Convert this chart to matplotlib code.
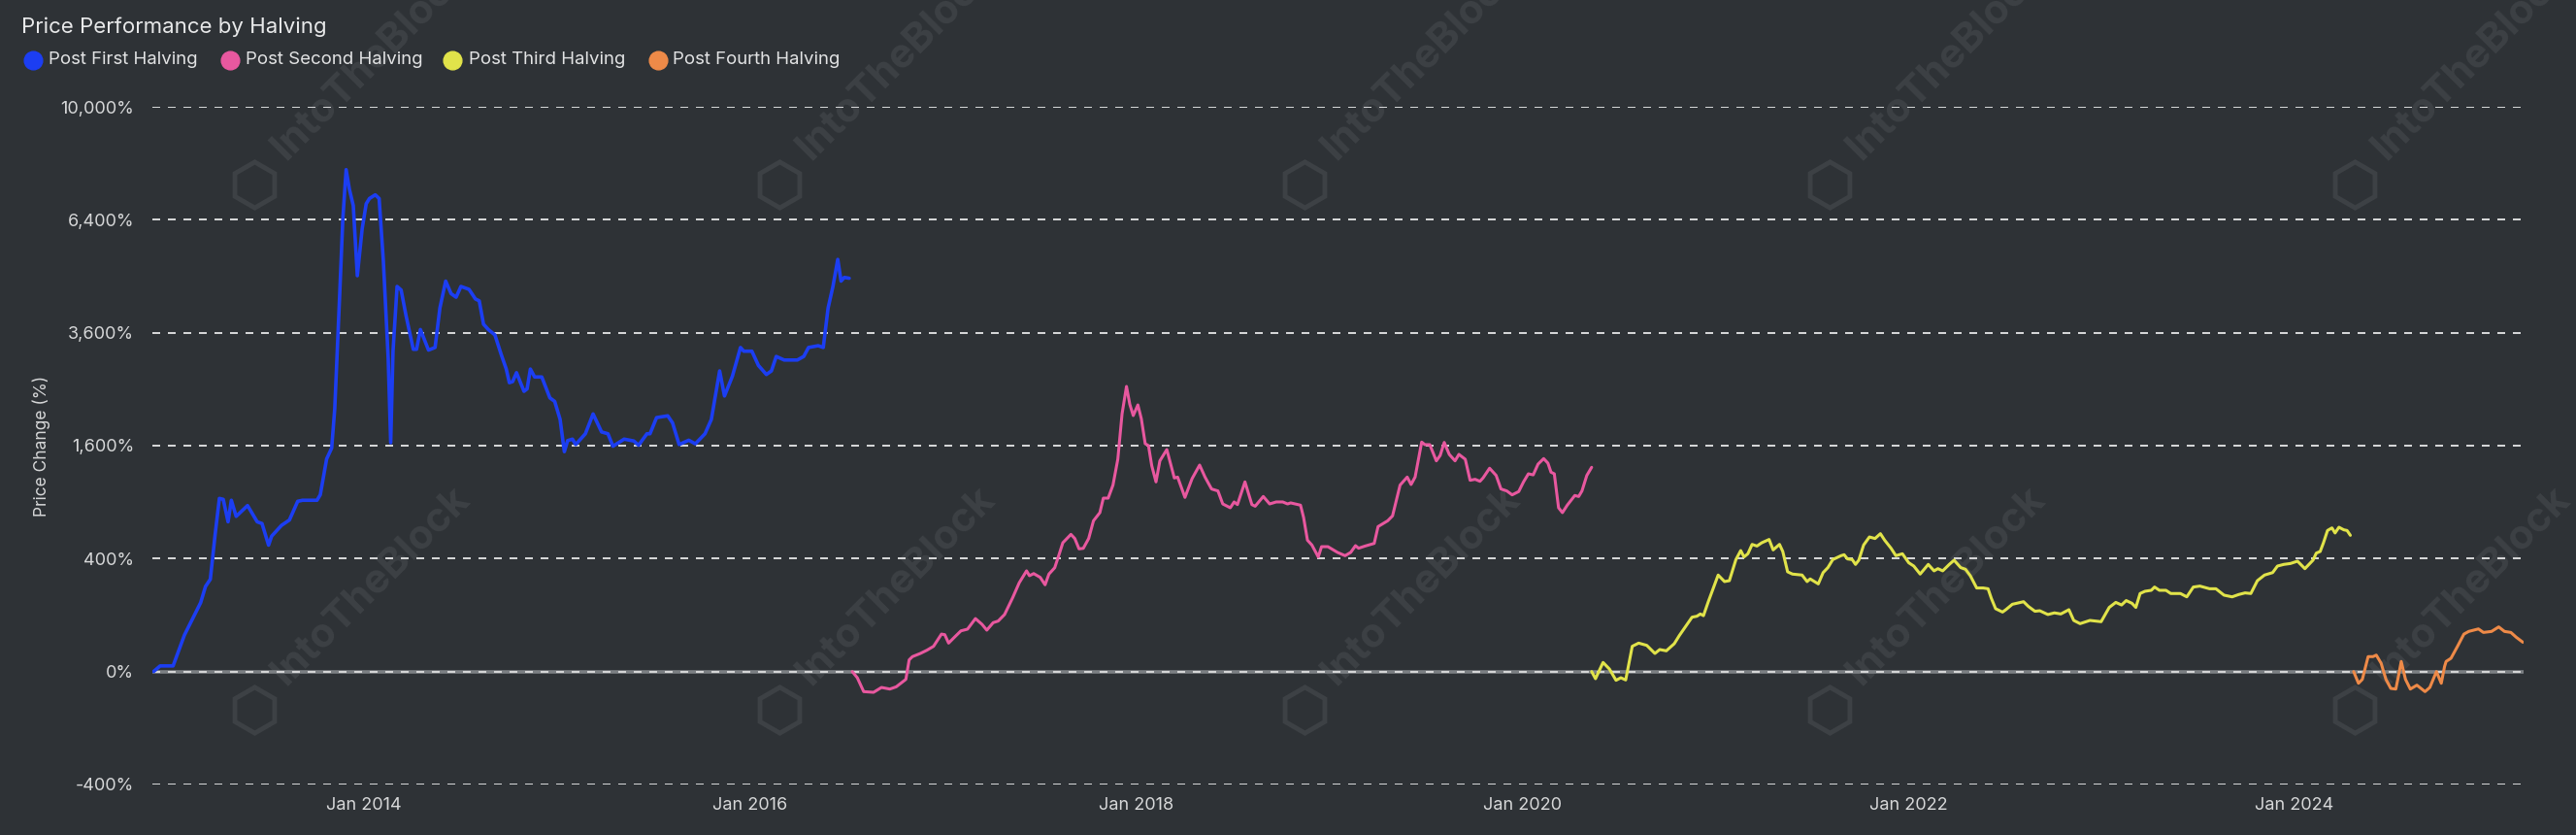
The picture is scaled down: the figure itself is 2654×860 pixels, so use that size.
import matplotlib
matplotlib.use("Agg")
import matplotlib.pyplot as plt
import matplotlib.dates as mdates
from matplotlib.lines import Line2D
from matplotlib.ticker import FuncFormatter
import numpy as np
from datetime import datetime, timedelta

plt.rcParams['font.family'] = ['Inter', 'DejaVu Sans']

# dates as decimal years, values in % change since each halving
blue_t = [2012.91, 2012.944, 2013.011, 2013.070, 2013.154, 2013.179, 2013.204, 2013.229, 2013.251, 2013.271,
          2013.296, 2013.313, 2013.338, 2013.397, 2013.447, 2013.472, 2013.506, 2013.522, 2013.573, 2013.614,
          2013.657, 2013.682, 2013.757, 2013.774, 2013.807, 2013.833, 2013.849, 2013.874, 2013.891, 2013.908,
          2013.925, 2013.945, 2013.966, 2013.991, 2014.012, 2014.029, 2014.059, 2014.079, 2014.101, 2014.126,
          2014.139, 2014.151, 2014.172, 2014.193, 2014.218, 2014.256, 2014.273, 2014.293, 2014.335, 2014.369,
          2014.394, 2014.424, 2014.452, 2014.478, 2014.503, 2014.545, 2014.578, 2014.598, 2014.620, 2014.645,
          2014.679, 2014.712, 2014.738, 2014.754, 2014.771, 2014.791, 2014.830, 2014.846, 2014.863, 2014.885,
          2014.922, 2014.964, 2014.989, 2015.017, 2015.039, 2015.056, 2015.081, 2015.098, 2015.148, 2015.188,
          2015.232, 2015.265, 2015.291, 2015.349, 2015.399, 2015.424, 2015.467, 2015.483, 2015.517, 2015.575,
          2015.600, 2015.634, 2015.684, 2015.718, 2015.768, 2015.801, 2015.844, 2015.869, 2015.910, 2015.952,
          2015.969, 2016.011, 2016.045, 2016.086, 2016.112, 2016.137, 2016.178, 2016.246, 2016.279, 2016.304,
          2016.354, 2016.380, 2016.405, 2016.430, 2016.455, 2016.472, 2016.489, 2016.514]
blue_v = [0, 1, 1, 42, 149, 227, 267, 590, 940, 930,
          703, 920, 755, 864, 703, 687, 501, 575, 670, 720,
          909, 920, 920, 980, 1418, 1566, 2168, 4394, 6443, 7898,
          7290, 6808, 4913, 6143, 6861, 7017, 7126, 7017, 5276, 3078,
          1642, 3218, 4650, 4565, 3982, 3256, 3256, 3668, 3240, 3293,
          4144, 4780, 4478, 4394, 4650, 4580, 4353, 4308, 3784, 3668,
          3554, 3149, 2869, 2616, 2636, 2801, 2462, 2506, 2869, 2721,
          2721, 2349, 2288, 1994, 1516, 1672, 1694, 1616, 1773, 2081,
          1800, 1773, 1592, 1694, 1667, 1606, 1773, 1773, 2022, 2051,
          1938, 1616, 1678, 1626, 1773, 1994, 2834, 2381, 2734, 3293,
          3218, 3218, 2937, 2767, 2834, 3113, 3043, 3043, 3113, 3293,
          3329, 3293, 4144, 4650, 5326, 4780, 4871, 4850]

pink_t = [2016.530, 2016.556, 2016.589, 2016.640, 2016.681, 2016.724, 2016.757, 2016.790, 2016.807, 2016.824,
          2016.841, 2016.882, 2016.916, 2016.950, 2016.991, 2017.008, 2017.028, 2017.058, 2017.092, 2017.126,
          2017.167, 2017.201, 2017.226, 2017.259, 2017.285, 2017.318, 2017.360, 2017.394, 2017.432, 2017.447,
          2017.469, 2017.503, 2017.528, 2017.548, 2017.578, 2017.603, 2017.620, 2017.662, 2017.682, 2017.704,
          2017.726, 2017.754, 2017.779, 2017.812, 2017.830, 2017.855, 2017.880, 2017.905, 2017.927, 2017.950,
          2017.967, 2017.985, 2018.009, 2018.027, 2018.047, 2018.064, 2018.081, 2018.103, 2018.123, 2018.159,
          2018.198, 2018.215, 2018.253, 2018.290, 2018.329, 2018.357, 2018.391, 2018.424, 2018.449, 2018.488,
          2018.508, 2018.525, 2018.564, 2018.600, 2018.617, 2018.659, 2018.692, 2018.726, 2018.760, 2018.785,
          2018.801, 2018.852, 2018.868, 2018.888, 2018.911, 2018.944, 2018.961, 2018.994, 2019.044, 2019.083,
          2019.112, 2019.137, 2019.153, 2019.187, 2019.234, 2019.254, 2019.304, 2019.329, 2019.368, 2019.405,
          2019.425, 2019.446, 2019.480, 2019.497, 2019.522, 2019.556, 2019.576, 2019.597, 2019.623, 2019.653,
          2019.673, 2019.706, 2019.731, 2019.757, 2019.782, 2019.798, 2019.832, 2019.866, 2019.891, 2019.921,
          2019.949, 2019.983, 2020.008, 2020.033, 2020.058, 2020.083, 2020.112, 2020.134, 2020.150, 2020.167,
          2020.189, 2020.209, 2020.234, 2020.273, 2020.293, 2020.310, 2020.335, 2020.360]
pink_v = [0, -1.2, -12.6, -13.5, -7.9, -9.6, -7.3, -3.4, -1.9, 4.3,
          7, 10.3, 14.3, 20, 44, 42.7, 25.4, 36.9, 52, 56.4,
          88, 70, 53.8, 75, 80, 102, 171, 247, 318, 288,
          301, 278, 236, 298, 338, 440, 520, 590, 555, 472,
          476, 555, 713, 792, 943, 943, 1090, 1413, 2081, 2549,
          2241, 2055, 2229, 2003, 1628, 1600, 1328, 1128, 1392, 1545,
          1175, 1186, 951, 1167, 1337, 1186, 1045, 1023, 881, 841,
          902, 874, 1128, 874, 857, 961, 881, 902, 902, 881,
          892, 868, 744, 541, 502, 412, 489, 489, 445, 421,
          445, 497, 477, 494, 515, 659, 713, 760, 1090, 1186,
          1097, 1186, 1651, 1614, 1614, 1392, 1465, 1646, 1479, 1392,
          1479, 1413, 1147, 1159, 1135, 1175, 1296, 1206, 1045, 1023,
          979, 1016, 1128, 1226, 1213, 1349, 1422, 1362, 1246, 1226,
          841, 792, 868, 972, 961, 1023, 1206, 1308]

yellow_t = [2020.360, 2020.380, 2020.419, 2020.452, 2020.486, 2020.511, 2020.536, 2020.570, 2020.603, 2020.645,
            2020.687, 2020.712, 2020.746, 2020.787, 2020.813, 2020.879, 2020.904, 2020.922, 2020.938, 2020.963,
            2021.014, 2021.047, 2021.072, 2021.106, 2021.131, 2021.148, 2021.168, 2021.190, 2021.215, 2021.240,
            2021.278, 2021.299, 2021.332, 2021.349, 2021.374, 2021.399, 2021.449, 2021.475, 2021.491, 2021.533,
            2021.558, 2021.583, 2021.608, 2021.651, 2021.667, 2021.684, 2021.709, 2021.726, 2021.743, 2021.768,
            2021.798, 2021.827, 2021.855, 2021.877, 2021.910, 2021.935, 2021.969, 2022.002, 2022.028, 2022.061,
            2022.103, 2022.133, 2022.153, 2022.178, 2022.212, 2022.237, 2022.271, 2022.296, 2022.321, 2022.354,
            2022.388, 2022.413, 2022.430, 2022.452, 2022.488, 2022.505, 2022.539, 2022.597, 2022.622, 2022.656,
            2022.681, 2022.723, 2022.757, 2022.790, 2022.832, 2022.857, 2022.890, 2022.941, 2022.999, 2023.041,
            2023.075, 2023.105, 2023.129, 2023.159, 2023.179, 2023.201, 2023.226, 2023.259, 2023.276, 2023.301,
            2023.335, 2023.360, 2023.410, 2023.443, 2023.477, 2023.511, 2023.561, 2023.594, 2023.636, 2023.678,
            2023.712, 2023.745, 2023.775, 2023.809, 2023.846, 2023.888, 2023.913, 2023.946, 2023.980, 2024.017,
            2024.055, 2024.097, 2024.114, 2024.134, 2024.151, 2024.172, 2024.195, 2024.211, 2024.231, 2024.256,
            2024.273, 2024.290]
yellow_v = [0, -1.6, 2.6, 0.2, -2.4, -1.2, -2.2, 20, 25.4, 21.5,
            10.3, 15.2, 13.5, 24.3, 40.5, 92.7, 96, 104, 98, 153,
            292, 254, 259, 393, 459, 412, 435, 507, 494, 520,
            547, 464, 507, 452, 312, 298, 292, 254, 269, 241,
            307, 339, 393, 421, 428, 398, 393, 360, 389, 502,
            568, 555, 596, 541, 477, 421, 435, 371, 349, 298,
            360, 318, 332, 318, 360, 389, 339, 328, 288, 219,
            219, 215, 168, 124, 111, 120, 142, 153, 133, 114,
            116, 102, 108, 104, 120, 82, 72, 82, 78, 129,
            150, 139, 158, 146, 129, 191, 202, 207, 224, 207,
            207, 191, 191, 175, 224, 229, 215, 215, 183, 175,
            186, 194, 191, 259, 292, 307, 349, 360, 366, 382,
            332, 389, 440, 452, 520, 624, 647, 602, 653, 630,
            624, 582]

orange_t = [2024.307, 2024.332, 2024.352, 2024.382, 2024.407, 2024.424, 2024.449, 2024.474, 2024.499, 2024.525,
            2024.537, 2024.553, 2024.575, 2024.600, 2024.634, 2024.676, 2024.701, 2024.735, 2024.760, 2024.777,
            2024.785, 2024.810, 2024.844, 2024.877, 2024.902, 2024.952, 2024.978, 2025.020, 2025.057, 2025.087,
            2025.120, 2025.148, 2025.182]
orange_v = [0, -4.3, -1.9, 7, 7, 8.5, 2.2, -1.9, -8.9, -9.6,
            -1.2, 3.2, -1.9, -9.6, -5.8, -12.6, -7.9, 0, -4.3, 0.8,
            3.2, 5.5, 20, 44, 50.5, 57, 48, 50.5, 62.5, 50.5,
            48, 36.9, 27]

labels = ['Post First Halving', 'Post Second Halving', 'Post Third Halving', 'Post Fourth Halving']
colors = ['#1c3ef2', '#e8589f', '#e1e34a', '#ee8a48']
yticks = [-400, 0, 400, 1600, 3600, 6400, 10000]

BG = '#2e3236'
W, H = 2654, 860


def to_dates(years):
    out = []
    for y in years:
        yr = int(y)
        start = datetime(yr, 1, 1)
        span = (datetime(yr + 1, 1, 1) - start).days
        out.append(start + timedelta(days=(y - yr) * span))
    return out


def fwd(v):
    v = np.asarray(v, dtype=float)
    return np.sign(v) * np.sqrt(np.abs(v))


def inv(s):
    s = np.asarray(s, dtype=float)
    return np.sign(s) * s ** 2


fig = plt.figure(figsize=(W / 100, H / 100), dpi=100, facecolor=BG)
ax = fig.add_axes([157 / W, 1 - 808 / H, (2600 - 157) / W, (808 - 110) / H])
ax.patch.set_visible(False)
ax.set_yscale('function', functions=(fwd, inv))
ax.set_ylim(-400, 10000)
ax.set_xlim(to_dates([2012.904, 2025.186]))

# watermark, clipped to the figure like the original tiles
wm = '#3d4145'
for k in range(5):
    for yb, yl in ((166, 190), (707, 731)):
        t = fig.text((294 + 541 * k) / W, 1 - yb / H, 'IntoTheBlock', rotation=45, rotation_mode='anchor',
                     ha='left', va='baseline', fontsize=30, fontweight='bold', color=wm, zorder=-1)
        t.set_clip_on(True)
        t.set_clip_box(fig.bbox)
        fig.add_artist(Line2D([(262 + 541 * k) / W], [1 - yl / H], transform=fig.transFigure, marker='h',
                              ms=34, mfc='none', mec=wm, mew=3.5, ls='none', zorder=-1))

# grid
ax.axhline(0, color='#7c8084', lw=2.6, zorder=1)
for v in yticks:
    ax.axhline(v, color='#d4d5d6', lw=1.44, ls=(0, (4, 4)), zorder=1.5)

series = [(blue_t, blue_v), (pink_t, pink_v), (yellow_t, yellow_v), (orange_t, orange_v)]
widths = [2.6, 2.2, 2.2, 2.2]
for (t, v), c, lw in zip(series, colors, widths):
    ax.plot(to_dates(t), v, color=c, lw=lw, zorder=3, solid_joinstyle='round', solid_capstyle='round')

for s in ax.spines.values():
    s.set_visible(False)
ax.minorticks_off()
ax.set_yticks(yticks)
ax.yaxis.set_major_formatter(FuncFormatter(lambda v, p: f"{v:,.0f}%"))
ax.xaxis.set_major_locator(mdates.YearLocator(2))
ax.xaxis.set_major_formatter(mdates.DateFormatter('%b %Y'))
ax.tick_params(axis='both', length=0, colors='#d6d7d8', labelsize=13)
ax.tick_params(axis='y', pad=13.5)
ax.tick_params(axis='x', pad=9)

ax.set_ylabel('Price Change (%)', color='#d6d7d8', fontsize=12.5, va='center')
ax.yaxis.set_label_coords((43 - 157) / (2600 - 157), 0.5)

fig.text(22 / W, 1 - 28 / H, 'Price Performance by Halving', fontsize=16, color='#e8e9ea',
         ha='left', va='center')

circ_x = [33.5, 237, 466, 677.5]
text_x = [50.5, 253, 483, 693]
for cx, tx, lab, c in zip(circ_x, text_x, labels, colors):
    fig.add_artist(Line2D([cx / W], [1 - 62 / H], transform=fig.transFigure, marker='o', ms=13.5,
                          color=c, ls='none'))
    fig.text(tx / W, 1 - 62 / H, lab, fontsize=13.4, color='#e2e3e4', ha='left', va='center')

fig.savefig('out.png', dpi=100, facecolor=BG)
